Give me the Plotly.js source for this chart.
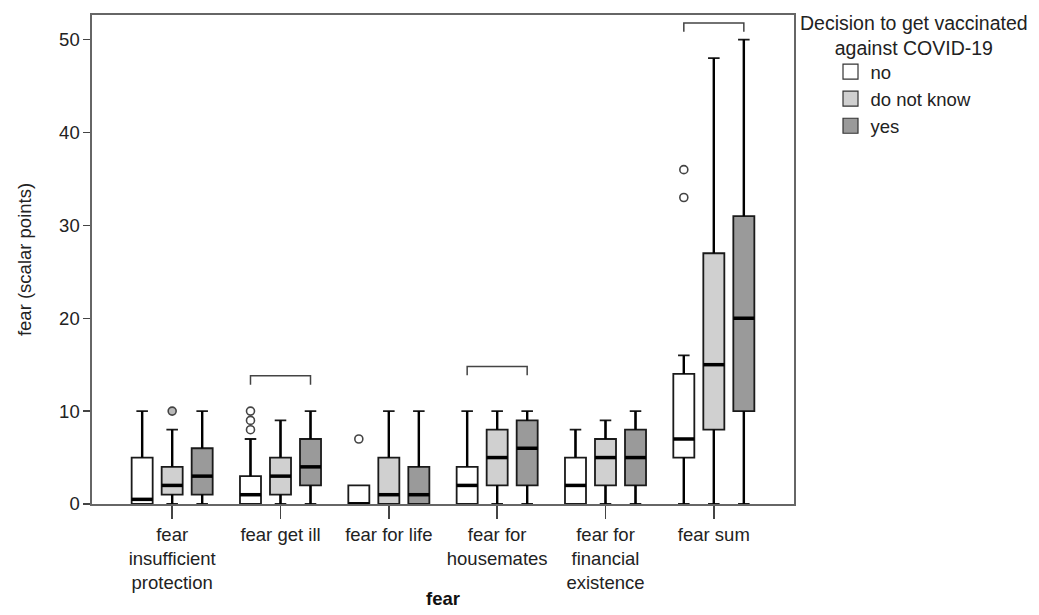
<!DOCTYPE html>
<html>
<head>
<meta charset="utf-8">
<script src="https://cdn.plot.ly/plotly-3.0.1.min.js"></script>
<style>html,body{margin:0;padding:0;background:#fff;}#chart{width:1039px;height:615px;}</style>
</head>
<body>
<div id="chart"></div>
<script>
// ---- data ----
var categories = ['fear<br>insufficient<br>protection', 'fear get ill', 'fear for life', 'fear for<br>housemates', 'fear for<br>financial<br>existence', 'fear sum'];
var seriesNames = ['no', 'do not know', 'yes'];

var noQ1     = [0, 0, 0, 0, 0, 5];
var noMedian = [0.5, 1, 0, 2, 2, 7];
var noQ3     = [5, 3, 2, 4, 5, 14];
var noLower  = [0, 0, 0, 0, 0, 0];
var noUpper  = [10, 7, 2, 10, 8, 16];

var dkQ1     = [1, 1, 0, 2, 2, 8];
var dkMedian = [2, 3, 1, 5, 5, 15];
var dkQ3     = [4, 5, 5, 8, 7, 27];
var dkLower  = [0, 0, 0, 0, 0, 0];
var dkUpper  = [8, 9, 10, 10, 9, 48];

var yesQ1     = [1, 2, 0, 2, 2, 10];
var yesMedian = [3, 4, 1, 6, 5, 20];
var yesQ3     = [6, 7, 4, 9, 8, 31];
var yesLower  = [0, 0, 0, 0, 0, 0];
var yesUpper  = [10, 10, 10, 10, 10, 50];

// outliers: category index and value
var noOutlierCat = [1, 1, 1, 2, 5, 5];
var noOutlierVal = [8, 9, 10, 7, 33, 36];
var dkOutlierCat = [0];
var dkOutlierVal = [10];

// significance brackets: category index and bracket level
var bracketCat   = [1, 3, 5];
var bracketLevel = [13.8, 14.8, 51.8];

var yTickVals = [0, 10, 20, 30, 40, 50];

// ---- styling ----
var fills = ['#ffffff', '#d0d0d0', '#9a9a9a'];
var offsets = [-0.277, 0, 0.277];
var boxWidth = 0.194;
var FONT = 'Liberation Sans, Arial, sans-serif';
var FS = 18.5;

var stats = [
  {q1: noQ1, median: noMedian, q3: noQ3, lo: noLower, hi: noUpper},
  {q1: dkQ1, median: dkMedian, q3: dkQ3, lo: dkLower, hi: dkUpper},
  {q1: yesQ1, median: yesMedian, q3: yesQ3, lo: yesLower, hi: yesUpper}
];

var traces = [];
stats.forEach(function (s, k) {
  var pos = categories.map(function (c, i) { return i + offsets[k]; });
  traces.push({
    type: 'box', name: seriesNames[k], x: pos,
    q1: s.q1, median: s.median, q3: s.q3, lowerfence: s.lo, upperfence: s.hi,
    width: boxWidth, whiskerwidth: 0.55, boxpoints: false,
    fillcolor: fills[k], line: {color: '#1a1a1a', width: 1.8},
    showlegend: false, hoverinfo: 'skip'
  });
  // thicker whiskers
  var wx = [], wy = [];
  pos.forEach(function (p, i) {
    if (s.hi[i] > s.q3[i]) { wx.push(p, p, null); wy.push(s.q3[i], s.hi[i], null); }
    if (s.lo[i] < s.q1[i]) { wx.push(p, p, null); wy.push(s.q1[i], s.lo[i], null); }
  });
  traces.push({
    type: 'scatter', mode: 'lines', x: wx, y: wy,
    line: {color: '#000000', width: 2.4}, showlegend: false, hoverinfo: 'skip'
  });
  // thick median lines
  var mx = [], my = [];
  pos.forEach(function (p, i) {
    mx.push(p - boxWidth / 2, p + boxWidth / 2, null);
    my.push(s.median[i], s.median[i], null);
  });
  traces.push({
    type: 'scatter', mode: 'lines', x: mx, y: my,
    line: {color: '#000000', width: 3.5}, showlegend: false, hoverinfo: 'skip'
  });
});

// outliers
traces.push({
  type: 'scatter', mode: 'markers',
  x: noOutlierCat.map(function (c) { return c + offsets[0]; }), y: noOutlierVal,
  marker: {symbol: 'circle', size: 8, color: '#ffffff', line: {color: '#444444', width: 1.6}},
  showlegend: false, hoverinfo: 'skip', cliponaxis: false
});
traces.push({
  type: 'scatter', mode: 'markers',
  x: dkOutlierCat.map(function (c) { return c + offsets[1]; }), y: dkOutlierVal,
  marker: {symbol: 'circle', size: 8, color: '#b8b8b8', line: {color: '#444444', width: 1.6}},
  showlegend: false, hoverinfo: 'skip', cliponaxis: false
});

// legend entries
seriesNames.forEach(function (n, k) {
  traces.push({
    type: 'scatter', mode: 'markers', name: n, x: [null], y: [null],
    marker: {symbol: 'square', size: 15, color: fills[k], line: {color: '#333333', width: 1.2}},
    showlegend: true, hoverinfo: 'skip'
  });
});

// bracket shapes
var drop = 0.95;
var shapes = bracketCat.map(function (c, i) {
  var x1 = c + offsets[0], x2 = c + offsets[2], y = bracketLevel[i];
  return {
    type: 'path', xref: 'x', yref: 'y',
    path: 'M' + x1 + ',' + (y - drop) + ' L' + x1 + ',' + y + ' L' + x2 + ',' + y + ' L' + x2 + ',' + (y - drop),
    line: {color: '#444444', width: 1.5}
  };
});

var layout = {
  width: 1039, height: 615,
  margin: {l: 92, r: 245, t: 15, b: 111},
  paper_bgcolor: '#ffffff', plot_bgcolor: '#ffffff',
  font: {family: FONT, size: FS, color: '#222222'},
  showlegend: true,
  xaxis: {
    range: [-0.74, 5.74], tickmode: 'array',
    tickvals: categories.map(function (c, i) { return i; }), ticktext: categories,
    ticks: 'outside', ticklen: 13, tickwidth: 1.5, tickcolor: '#444444',
    showline: true, linecolor: '#666666', linewidth: 1.6, mirror: true,
    showgrid: false, zeroline: false,
    tickfont: {family: FONT, size: FS, color: '#222222'},
    title: {text: '<b>fear</b>', font: {family: FONT, size: FS, color: '#111111'}, standoff: 0}
  },
  yaxis: {
    range: [0, 52.65], tickmode: 'array', tickvals: yTickVals,
    ticks: 'outside', ticklen: 7, tickwidth: 1.5, tickcolor: '#444444',
    showline: true, linecolor: '#666666', linewidth: 1.6, mirror: true,
    showgrid: false, zeroline: false,
    tickfont: {family: FONT, size: FS, color: '#222222'},
    title: {text: 'fear (scalar points)', font: {family: FONT, size: FS, color: '#222222'}, standoff: 22}
  },
  legend: {
    x: 1.052, xanchor: 'left', y: 0.922, yanchor: 'top',
    font: {family: FONT, size: FS, color: '#222222'},
    bgcolor: 'rgba(0,0,0,0)', borderwidth: 0, tracegroupgap: 0, itemwidth: 30
  },
  annotations: [
    {text: 'Decision to get vaccinated<br>against COVID-19', xref: 'paper', yref: 'paper', x: 1.171, y: 0.958,
     xanchor: 'center', yanchor: 'middle', align: 'center', showarrow: false,
     font: {family: FONT, size: 19.5, color: '#222222'}}
  ],
  shapes: shapes
};

Plotly.newPlot('chart', traces, layout, {staticPlot: true, displayModeBar: false});
</script>
</body>
</html>
